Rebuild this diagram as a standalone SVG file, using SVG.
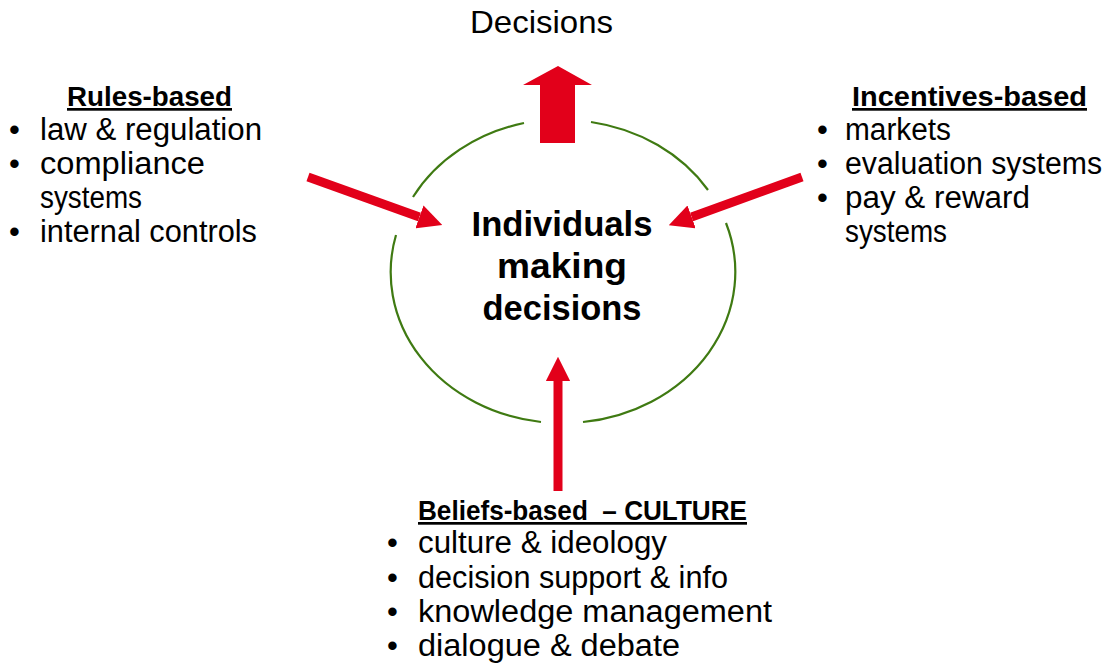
<svg xmlns="http://www.w3.org/2000/svg" width="1107" height="665" viewBox="0 0 1107 665">
<style>
  text { font-family: "Liberation Sans", Arial, sans-serif; fill: #000; }
  .item { font-size: 31px; }
  .head { font-size: 27px; font-weight: bold; text-decoration: underline; white-space: pre; }
  .center { font-size: 35px; font-weight: bold; text-anchor: middle; }
  .title { font-size: 32px; }
  .ring { fill: none; stroke: #3F7A12; stroke-width: 2.2; }
  .conn { stroke: #E2001A; stroke-width: 9; fill: none; marker-end: url(#head); }
  .big { fill: #E2001A; }
</style>
<defs>
  <marker id="head" markerUnits="strokeWidth" markerWidth="2.7" markerHeight="2.7" refX="0" refY="1.35" orient="auto">
    <path d="M0,0 L2.7,1.35 L0,2.7 z" fill="#E2001A"/>
  </marker>
</defs>

<g id="decisions-title">
  <text class="title" x="470" y="33" textLength="143" lengthAdjust="spacingAndGlyphs">Decisions</text>
</g>

<g id="center-node">
  <path class="ring" d="M591,122 A172,151 0 0,1 708,190"/>
  <path class="ring" d="M726,223 A172,151 0 0,1 583,422"/>
  <path class="ring" d="M541,422 A172,151 0 0,1 396,235"/>
  <path class="ring" d="M413,197 A172,151 0 0,1 524,123"/>
  <text class="center" x="562" y="236" textLength="181" lengthAdjust="spacingAndGlyphs">Individuals</text>
  <text class="center" x="562" y="278" textLength="130" lengthAdjust="spacingAndGlyphs">making</text>
  <text class="center" x="562" y="320" textLength="159" lengthAdjust="spacingAndGlyphs">decisions</text>
</g>

<g id="rules-based">
  <text class="head" x="67" y="106" textLength="165" lengthAdjust="spacingAndGlyphs">Rules-based</text>
  <text class="item" x="9" y="140">•</text>
  <text class="item" x="40" y="140" textLength="222" lengthAdjust="spacingAndGlyphs">law &amp; regulation</text>
  <text class="item" x="9" y="174">•</text>
  <text class="item" x="40" y="174" textLength="165" lengthAdjust="spacingAndGlyphs">compliance</text>
  <text class="item" x="40" y="208" textLength="102" lengthAdjust="spacingAndGlyphs">systems</text>
  <text class="item" x="9" y="242">•</text>
  <text class="item" x="40" y="242" textLength="217" lengthAdjust="spacingAndGlyphs">internal controls</text>
</g>

<g id="incentives-based">
  <text class="head" x="852" y="106" textLength="235" lengthAdjust="spacingAndGlyphs">Incentives-based</text>
  <text class="item" x="817" y="140">•</text>
  <text class="item" x="845" y="140" textLength="106" lengthAdjust="spacingAndGlyphs">markets</text>
  <text class="item" x="817" y="174">•</text>
  <text class="item" x="845" y="174" textLength="257" lengthAdjust="spacingAndGlyphs">evaluation systems</text>
  <text class="item" x="817" y="208">•</text>
  <text class="item" x="845" y="208" textLength="185" lengthAdjust="spacingAndGlyphs">pay &amp; reward</text>
  <text class="item" x="845" y="242" textLength="102" lengthAdjust="spacingAndGlyphs">systems</text>
</g>

<g id="beliefs-based">
  <text class="head" x="418" y="520" textLength="329" lengthAdjust="spacingAndGlyphs">Beliefs-based  – CULTURE</text>
  <text class="item" x="387" y="553">•</text>
  <text class="item" x="418" y="553" textLength="249" lengthAdjust="spacingAndGlyphs">culture &amp; ideology</text>
  <text class="item" x="387" y="588">•</text>
  <text class="item" x="418" y="588" textLength="310" lengthAdjust="spacingAndGlyphs">decision support &amp; info</text>
  <text class="item" x="387" y="622">•</text>
  <text class="item" x="418" y="622" textLength="354" lengthAdjust="spacingAndGlyphs">knowledge management</text>
  <text class="item" x="387" y="656">•</text>
  <text class="item" x="418" y="656" textLength="262" lengthAdjust="spacingAndGlyphs">dialogue &amp; debate</text>
</g>

<g id="connectors">
  <polygon class="big" points="540,143 540,85 523,85 558,66 592,85 575,85 575,143"/>
  <line class="conn" x1="308" y1="177" x2="419.4" y2="216.9"/>
  <line class="conn" x1="802" y1="177" x2="691.6" y2="216.9"/>
  <line class="conn" x1="558" y1="491" x2="558" y2="381"/>
</g>
</svg>
